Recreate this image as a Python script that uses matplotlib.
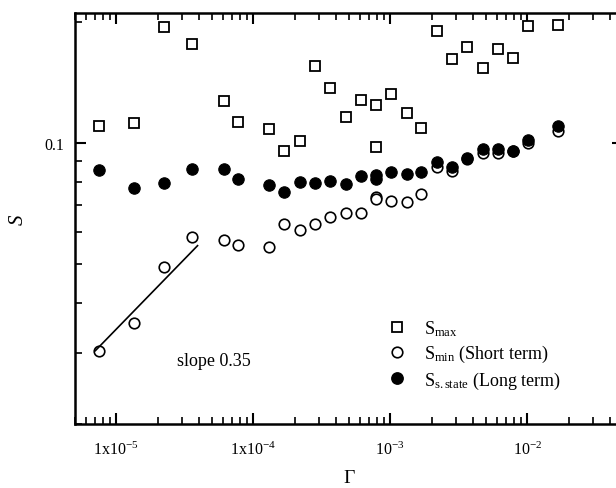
import numpy as np
import matplotlib
matplotlib.use("Agg")
import matplotlib.pyplot as plt
from matplotlib.ticker import FixedLocator, FixedFormatter, NullFormatter
from matplotlib.lines import Line2D

plt.rcParams["font.family"] = ["Liberation Serif", "DejaVu Serif"]
plt.rcParams["mathtext.fontset"] = "custom"
plt.rcParams["mathtext.rm"] = "Liberation Serif"
plt.rcParams["mathtext.it"] = "Liberation Serif:italic"

# Shear rate Gamma and the three measured quantities
gamma = [7.42e-6, 1.345e-5, 2.24e-5, 3.59e-5, 6.14e-5, 7.78e-5, 1.31e-4, 1.69e-4,
         2.20e-4, 2.84e-4, 3.65e-4, 4.72e-4, 6.07e-4, 7.82e-4, 7.82e-4, 1.017e-3,
         1.315e-3, 1.68e-3, 2.20e-3, 2.84e-3, 3.65e-3, 4.72e-3, 6.07e-3, 7.9e-3,
         1.02e-2, 1.69e-2]
s_max = [0.110, 0.1119, 0.1937, 0.1761, 0.1271, 0.1126, 0.1081, 0.0955,
         0.1012, 0.1552, 0.1369, 0.1158, 0.1276, 0.1240, 0.0977, 0.1325,
         0.1189, 0.1090, 0.1896, 0.1613, 0.1734, 0.1532, 0.1714, 0.1625,
         0.1958, 0.1969]
s_min = [0.0303, 0.0357, 0.0492, 0.0583, 0.0574, 0.0556, 0.0552, 0.0630,
         0.0608, 0.0627, 0.0654, 0.0669, 0.0669, 0.0734, 0.0724, 0.0715,
         0.0711, 0.0748, 0.0869, 0.0849, 0.0912, 0.0946, 0.0943, 0.0952,
         0.1002, 0.1071]
s_ss = [0.0857, 0.0774, 0.0797, 0.0860, 0.0862, 0.0815, 0.0788, 0.0754,
        0.0800, 0.0796, 0.0806, 0.0791, 0.0825, 0.0831, 0.0814, 0.0846,
        0.0836, 0.0847, 0.0896, 0.0869, 0.0916, 0.0963, 0.0963, 0.0955,
        0.1017, 0.1102]

# Power-law fit of the short-term minimum at low shear rate
fit_slope = 0.35
fit_anchor_gamma = 1.66e-5
fit_anchor_s = 0.0411
fit_range = [7.03e-6, 3.92e-5]

x_major = [1e-5, 1e-4, 1e-3, 1e-2]
x_major_labels = [r"1x10$^{\mathregular{-5}}$", r"1x10$^{\mathregular{-4}}$",
                  r"10$^{\mathregular{-3}}$", r"10$^{\mathregular{-2}}$"]

fig = plt.figure(figsize=(6.16, 4.89), dpi=100)
ax = fig.add_axes([0.1218, 0.1309, 0.8896, 0.8405])
ax.set_xscale("log")
ax.set_yscale("log")

ax.plot(gamma, s_max, linestyle="none", marker="s", markersize=6.8,
        markerfacecolor="white", markeredgecolor="black", markeredgewidth=1.3, zorder=3)
ax.plot(gamma, s_min, linestyle="none", marker="o", markersize=7.6,
        markerfacecolor="white", markeredgecolor="black", markeredgewidth=1.2, zorder=3)
ax.plot(gamma, s_ss, linestyle="none", marker="o", markersize=8.2,
        markerfacecolor="black", markeredgecolor="black", markeredgewidth=0.8, zorder=4)

gfit = np.array(fit_range)
ax.plot(gfit, fit_anchor_s * (gfit / fit_anchor_gamma) ** fit_slope,
        color="black", linewidth=1.2, zorder=5)
ax.text(2.79e-5, 0.0287, "slope 0.35", fontsize=13, ha="left", va="center")

ax.set_xlim(5e-6, 5e-2)
ax.set_ylim(0.02, 0.2104)

ax.xaxis.set_major_locator(FixedLocator(x_major))
ax.xaxis.set_major_formatter(FixedFormatter(x_major_labels))
x_minor = [m * 10.0 ** e for e in range(-6, -1) for m in range(2, 10)]
ax.xaxis.set_minor_locator(FixedLocator(x_minor))
ax.xaxis.set_minor_formatter(NullFormatter())

ax.yaxis.set_major_locator(FixedLocator([0.1]))
ax.yaxis.set_major_formatter(FixedFormatter(["0.1"]))
y_minor = [0.02, 0.03, 0.04, 0.05, 0.06, 0.07, 0.08, 0.09, 0.2]
ax.yaxis.set_minor_locator(FixedLocator(y_minor))
ax.yaxis.set_minor_formatter(NullFormatter())

ax.tick_params(which="both", direction="in", top=True, right=True,
               color="black", labelsize=11.5)
ax.tick_params(which="major", length=8, width=1.5)
ax.tick_params(which="minor", length=5, width=1.2)
ax.tick_params(axis="x", which="major", pad=12)
ax.tick_params(axis="y", which="major", pad=8)
for sp in ax.spines.values():
    sp.set_linewidth(1.8)

ax.set_xlabel(r"$\Gamma$", fontsize=14, labelpad=8)
ax.set_ylabel("S", fontsize=15, style="italic", labelpad=12)

handles = [
    Line2D([], [], linestyle="none", marker="s", markersize=6.8,
           markerfacecolor="white", markeredgecolor="black", markeredgewidth=1.3),
    Line2D([], [], linestyle="none", marker="o", markersize=7.6,
           markerfacecolor="white", markeredgecolor="black", markeredgewidth=1.2),
    Line2D([], [], linestyle="none", marker="o", markersize=8.2,
           markerfacecolor="black", markeredgecolor="black"),
]
labels = [r"S$_{\mathregular{max}}$",
          r"S$_{\mathregular{min}}$ (Short term)",
          r"S$_{\mathregular{s.state}}$ (Long term)"]
ax.legend(handles, labels, loc="upper left", bbox_to_anchor=(379 / 616, 1 - 310 / 489),
          bbox_transform=fig.transFigure, frameon=False, fontsize=13,
          handlelength=1.0, handletextpad=1.0, labelspacing=0.3, borderpad=0.0)

fig.savefig("out.png", dpi=100)
